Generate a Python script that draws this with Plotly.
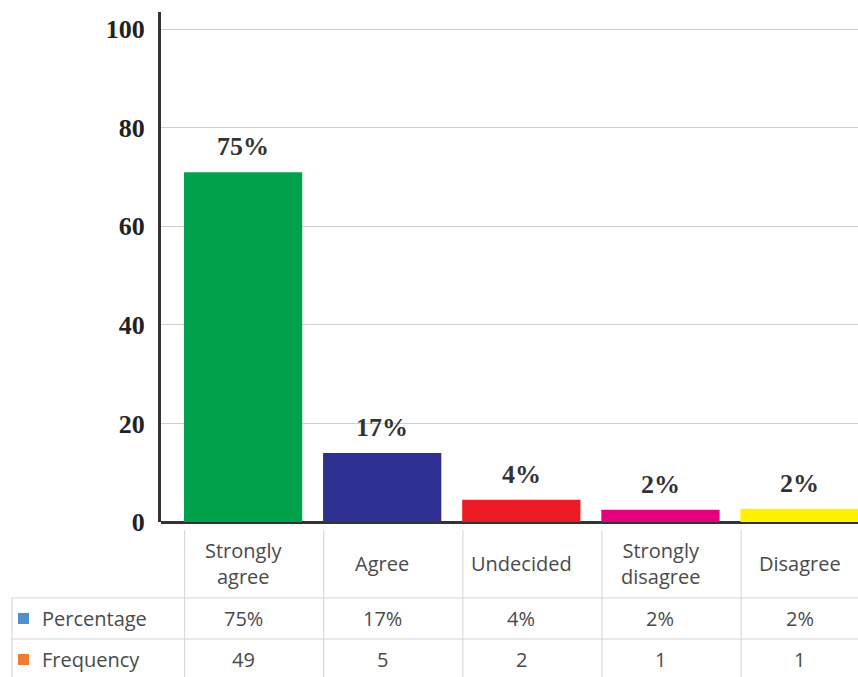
import plotly.graph_objects as go

categories = ["Strongly agree", "Agree", "Undecided", "Strongly disagree", "Disagree"]
header_labels = ["Strongly<br>agree", "Agree", "Undecided", "Strongly<br>disagree", "Disagree"]
bar_heights = [71, 14, 4.5, 2.5, 2.7]
percent_labels = ["75%", "17%", "4%", "2%", "2%"]
frequencies = [49, 5, 2, 1, 1]
bar_colors = ["#00a14b", "#2e3192", "#ed1c24", "#e5007d", "#fff200"]
y_ticks = [0, 20, 40, 60, 80, 100]

W, H = 858, 677
L, R, T, B = 161, 0, 12, 155
plot_w = W - L - R
plot_h = H - T - B
XMIN, XMAX = -0.59, 4.42


def py(p):
    return (H - B - p) / plot_h


def pxx(p):
    return (p - L) / plot_w


xs = list(range(len(categories)))

fig = go.Figure()
fig.add_trace(go.Bar(
    x=xs, y=bar_heights, marker=dict(color=bar_colors, line=dict(width=0)),
    width=0.85, hoverinfo="skip", showlegend=False,
))

serif = "Liberation Serif"
sans = "Open Sans"
txt_col = "#4a4a4a"
line_col = "#d4d4d4"
fs = 20

ann = []
# bar value labels
for x, h, lab in zip(xs, bar_heights, percent_labels):
    ann.append(dict(x=x, y=h, xref="x", yref="y", text="<b>%s</b>" % lab, showarrow=False,
                    yanchor="bottom", yshift=9, font=dict(family=serif, size=26, color="#333333")))

# table header
for x, lab in zip(xs, header_labels):
    ann.append(dict(x=x, y=py(563), xref="x", yref="paper", text=lab, showarrow=False,
                    yanchor="middle", font=dict(family=sans, size=fs, color=txt_col)))
# rows
for x, p, f in zip(xs, percent_labels, frequencies):
    ann.append(dict(x=x, y=py(618), xref="x", yref="paper", text=p, showarrow=False,
                    yanchor="middle", font=dict(family=sans, size=fs, color=txt_col)))
    ann.append(dict(x=x, y=py(659), xref="x", yref="paper", text=str(f), showarrow=False,
                    yanchor="middle", font=dict(family=sans, size=fs, color=txt_col)))

for name, yy in [("Percentage", 618), ("Frequency", 659)]:
    ann.append(dict(x=pxx(40), y=py(yy), xref="paper", yref="paper", text=name, showarrow=False,
                    xanchor="left", yanchor="middle", font=dict(family=sans, size=fs, color=txt_col)))

shapes = []
# legend keys
for col, yy in [("#4f8fd0", 618), ("#ee7d31", 659)]:
    shapes.append(dict(type="rect", xref="paper", yref="paper", x0=pxx(18), x1=pxx(29),
                       y0=py(yy + 6), y1=py(yy - 5), fillcolor=col, line=dict(width=0)))
# horizontal table lines
for yy in [598, 639]:
    shapes.append(dict(type="line", xref="paper", yref="paper", x0=pxx(12), x1=1,
                       y0=py(yy), y1=py(yy), line=dict(color=line_col, width=1)))
# vertical table lines
for x in xs:
    shapes.append(dict(type="line", xref="x", yref="paper", x0=x - 0.42, x1=x - 0.42,
                       y0=py(530), y1=py(H), line=dict(color=line_col, width=1)))
shapes.append(dict(type="line", xref="paper", yref="paper", x0=pxx(12), x1=pxx(12),
                   y0=py(598), y1=py(H), line=dict(color=line_col, width=1)))

fig.update_layout(
    width=W, height=H,
    margin=dict(l=L, r=R, t=T, b=B, pad=0),
    paper_bgcolor="white", plot_bgcolor="white",
    bargap=0.15,
    annotations=ann, shapes=shapes,
    xaxis=dict(range=[XMIN, XMAX], showticklabels=False, showgrid=False, zeroline=False,
               showline=False, ticks=""),
    yaxis=dict(range=[0, 103.5], tickvals=y_ticks, showgrid=True, gridcolor="#d0d0d0", gridwidth=1,
               zeroline=True, zerolinecolor="#333333", zerolinewidth=3,
               showline=True, linecolor="#333333", linewidth=3, ticks="",
               ticklabelstandoff=8,
               tickfont=dict(family=serif, size=26, color="#222222", weight="bold")),
)

fig.write_html("out.html", config={"displayModeBar": False},
               post_script="document.body.style.margin='0';document.body.style.overflow='hidden';")
